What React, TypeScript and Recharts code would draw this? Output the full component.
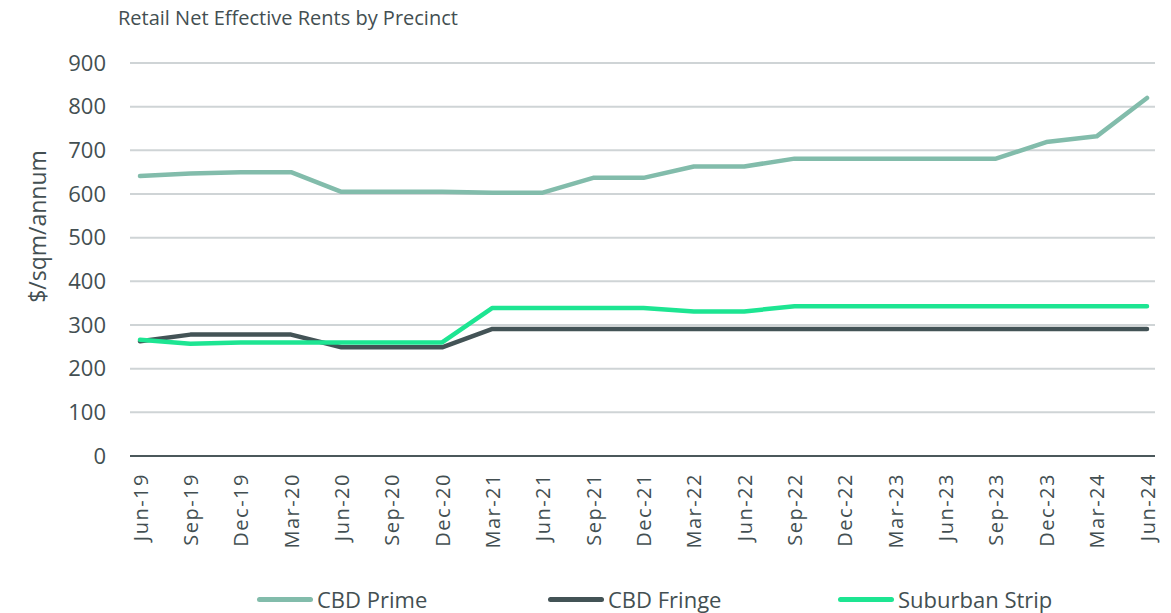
import React from "react";
import { LineChart, Line, XAxis, YAxis, CartesianGrid, Label } from "recharts";

const quarters = [
  "Jun-19", "Sep-19", "Dec-19", "Mar-20", "Jun-20", "Sep-20", "Dec-20",
  "Mar-21", "Jun-21", "Sep-21", "Dec-21", "Mar-22", "Jun-22", "Sep-22",
  "Dec-22", "Mar-23", "Jun-23", "Sep-23", "Dec-23", "Mar-24", "Jun-24",
];
const cbdPrime = [641, 647, 650, 650, 605, 605, 605, 603, 603, 637, 637, 663, 663, 681, 681, 681, 681, 681, 719, 732, 820];
const cbdFringe = [263, 278, 278, 278, 249, 249, 249, 291, 291, 291, 291, 291, 291, 291, 291, 291, 291, 291, 291, 291, 291];
const suburbanStrip = [266, 257, 260, 260, 260, 260, 260, 339, 339, 339, 339, 331, 331, 343, 343, 343, 343, 343, 343, 343, 343];
const yTicks = [0, 100, 200, 300, 400, 500, 600, 700, 800, 900];

const seriesNames = ["CBD Prime", "CBD Fringe", "Suburban Strip"];
const seriesColors = ["#82bcab", "#435356", "#1de592"];

const data = quarters.map((q, i) => ({
  q,
  prime: cbdPrime[i],
  fringe: cbdFringe[i],
  suburban: suburbanStrip[i],
}));

const FONT = "'Open Sans', 'Noto Sans', sans-serif";
const TEXT = "#434f52";

const XTick = (props: any) => {
  const { x, y, payload } = props;
  return (
    <text
      x={x}
      y={y}
      transform={`rotate(-90, ${x}, ${y})`}
      textAnchor="end"
      dominantBaseline="central"
      fill={TEXT}
      fontSize={20}
      fontFamily={FONT}
      letterSpacing={1.5}
    >
      {payload.value}
    </text>
  );
};

const YLabel = (props: any) => {
  const vb = props.viewBox || { x: 0, y: 63, width: 130, height: 393 };
  const cx = vb.x + 37;
  const cy = vb.y + vb.height / 2 - 33;
  return (
    <text
      x={cx}
      y={cy}
      transform={`rotate(-90, ${cx}, ${cy})`}
      textAnchor="middle"
      dominantBaseline="central"
      fill={TEXT}
      fontSize={23}
      fontFamily={FONT}
    >
      $/sqm/annum
    </text>
  );
};

const legendLefts = [257, 548, 838];

export default function App() {
  return (
    <div style={{ position: "absolute", left: 0, top: 0, width: 1171, height: 613, background: "#fff", fontFamily: FONT }}>
      <div
        style={{
          position: "absolute",
          left: 118,
          top: 6,
          fontSize: 20,
          color: TEXT,
          lineHeight: "24px",
          whiteSpace: "nowrap",
        }}
      >
        Retail Net Effective Rents by Precinct
      </div>
      <LineChart
        width={1171}
        height={613}
        data={data}
        margin={{ top: 63, right: 16, left: 0, bottom: 57 }}
      >
        <CartesianGrid vertical={false} stroke="#cfd4d6" strokeWidth={2} />
        <XAxis
          dataKey="q"
          interval={0}
          height={100}
          padding={{ left: 10, right: 8 }}
          tickSize={0}
          tickMargin={17}
          tick={<XTick />}
          axisLine={{ stroke: "#4b585b", strokeWidth: 2 }}
          tickLine={false}
        />
        <YAxis
          width={130}
          domain={[0, 900]}
          ticks={yTicks}
          interval={0}
          axisLine={false}
          tickLine={false}
          tickSize={0}
          tickMargin={24}
          tick={{ fill: TEXT, fontSize: 22, fontFamily: FONT }}
        >
          <Label content={<YLabel />} />
        </YAxis>
        <Line type="linear" dataKey="prime" name={seriesNames[0]} stroke={seriesColors[0]} strokeWidth={4.5} strokeLinecap="round" strokeLinejoin="round" dot={false} activeDot={false} isAnimationActive={false} />
        <Line type="linear" dataKey="fringe" name={seriesNames[1]} stroke={seriesColors[1]} strokeWidth={4.5} strokeLinecap="round" strokeLinejoin="round" dot={false} activeDot={false} isAnimationActive={false} />
        <Line type="linear" dataKey="suburban" name={seriesNames[2]} stroke={seriesColors[2]} strokeWidth={4.5} strokeLinecap="round" strokeLinejoin="round" dot={false} activeDot={false} isAnimationActive={false} />
      </LineChart>
      {seriesNames.map((name, i) => (
        <div
          key={name}
          style={{
            position: "absolute",
            left: legendLefts[i],
            top: 585,
            height: 28,
            display: "flex",
            alignItems: "center",
            whiteSpace: "nowrap",
          }}
        >
          <span
            style={{
              display: "inline-block",
              width: 56,
              height: 5,
              borderRadius: 3,
              background: seriesColors[i],
              marginRight: 4,
            }}
          />
          <span style={{ fontSize: 22, color: TEXT }}>{name}</span>
        </div>
      ))}
    </div>
  );
}
